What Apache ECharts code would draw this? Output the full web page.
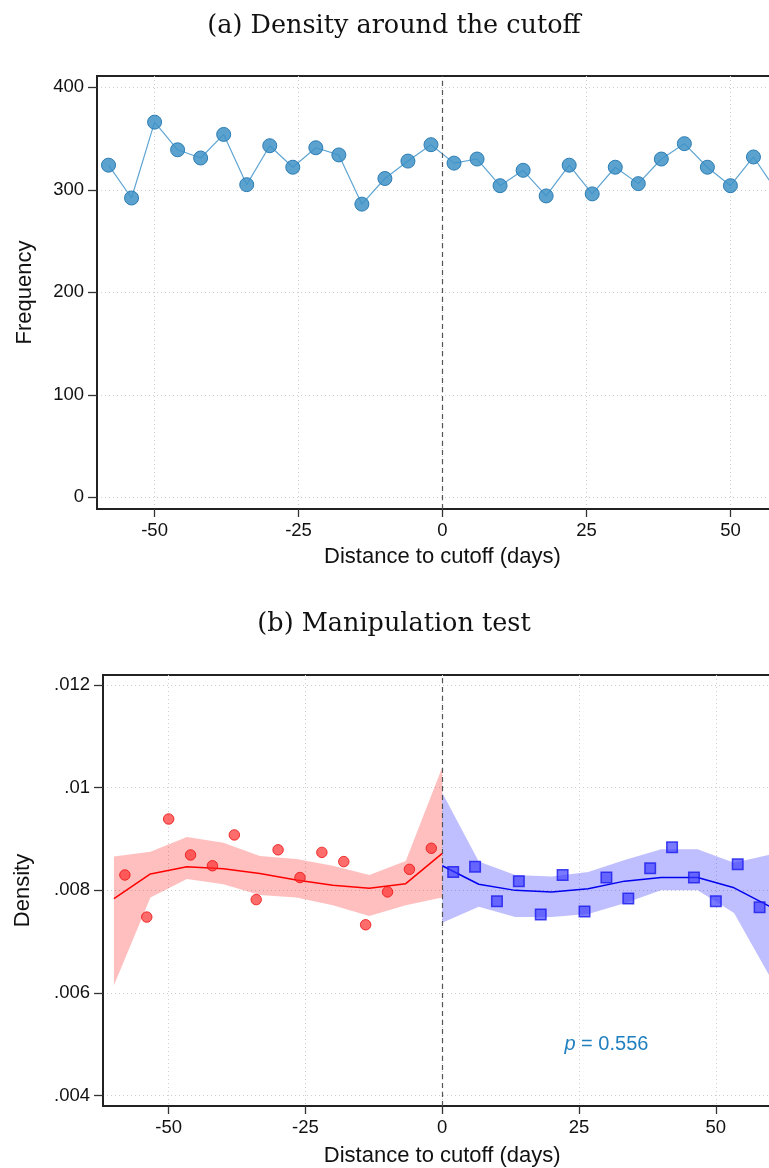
<!DOCTYPE html>
<html>
<head>
<meta charset="utf-8">
<title>Density around the cutoff</title>
<script src="https://cdn.jsdelivr.net/npm/echarts@6/dist/echarts.min.js"></script>
<style>
  html, body { margin: 0; padding: 0; background: #fff; overflow: hidden; }
  /* the figure is wider than the window; its right edge is cut off */
  #main { width: 788px; height: 1168px; }
</style>
</head>
<body>
<div id="main"></div>
<script>
// bins (days from cutoff)
const binX = [-58, -54, -50, -46, -42, -38, -34, -30, -26, -22, -18, -14, -10, -6, -2,
              2, 6, 10, 14, 18, 22, 26, 30, 34, 38, 42, 46, 50, 54, 58];
const freq = [324, 292, 366, 339, 331, 354, 305, 343, 322, 341, 334, 286, 311, 328, 344,
              326, 330, 304, 319, 294, 324, 296, 322, 306, 330, 345, 322, 304, 332, 299];

const leftBinX = [-58, -54, -50, -46, -42, -38, -34, -30, -26, -22, -18, -14, -10, -6, -2];
const leftDens = [0.00830, 0.00748, 0.00939, 0.00869, 0.00848, 0.00908, 0.00782, 0.00879,
                  0.00825, 0.00874, 0.00856, 0.00733, 0.00797, 0.00841, 0.00882];
const rightBinX = [2, 6, 10, 14, 18, 22, 26, 30, 34, 38, 42, 46, 50, 54, 58];
const rightDens = [0.00836, 0.00846, 0.00779, 0.00818, 0.00753, 0.00830, 0.00759, 0.00825,
                   0.00784, 0.00843, 0.00884, 0.00825, 0.00779, 0.00851, 0.00767];

// local polynomial fit + confidence band
const leftGrid = [-60, -53.33, -46.67, -40, -33.33, -26.67, -20, -13.33, -6.67, 0];
const leftFit = [0.00784, 0.00832, 0.00846, 0.00842, 0.00833, 0.00820, 0.00810, 0.00804, 0.00813, 0.00872];
const leftHi  = [0.00866, 0.00875, 0.00904, 0.00893, 0.00867, 0.00861, 0.00848, 0.00830, 0.00857, 0.01040];
const leftLo  = [0.00615, 0.00786, 0.00822, 0.00812, 0.00791, 0.00786, 0.00771, 0.00750, 0.00771, 0.00786];

const rightGrid = [0, 6.67, 13.33, 20, 26.67, 33.33, 40, 46.67, 53.33, 60];
const rightFit = [0.00848, 0.00812, 0.00800, 0.00797, 0.00803, 0.00818, 0.00825, 0.00825, 0.00805, 0.00768];
const rightHi  = [0.00990, 0.00856, 0.00830, 0.00827, 0.00836, 0.00859, 0.00880, 0.00880, 0.00854, 0.00870];
const rightLo  = [0.00737, 0.00768, 0.00748, 0.00748, 0.00754, 0.00775, 0.00800, 0.00800, 0.00756, 0.00630];

const xTicks = [-50, -25, 0, 25, 50];
const freqTicks = [0, 100, 200, 300, 400];
const densTicks = [0.004, 0.006, 0.008, 0.010, 0.012];
const pText = '0.556';

const SANS = '"Liberation Sans", Arial, sans-serif';
const SERIF = '"DejaVu Serif", "Liberation Serif", serif';

const zip = (xs, ys) => xs.map((x, i) => [x, ys[i]]);
const fmtDens = v => String(Number(v.toFixed(3))).replace(/^0/, '');
const gridLine = { show: true, lineStyle: { color: '#cdcdcd', type: [1, 3], width: 1 } };

function xAxisOpt(gridIndex, min, max, gap) {
    return {
        type: 'value', gridIndex: gridIndex, min: min, max: max,
        name: 'Distance to cutoff (days)', nameLocation: 'middle', nameGap: gap,
        nameTextStyle: { fontFamily: SANS, fontSize: 22, color: '#111' },
        axisLine: { show: true, onZero: false, lineStyle: { color: '#222', width: 2 } },
        axisTick: { show: true, length: 8, customValues: xTicks, lineStyle: { color: '#333', width: 1.3 } },
        axisLabel: { customValues: xTicks, fontFamily: SANS, fontSize: 18.5, color: '#111', margin: 12 },
        splitLine: gridLine
    };
}

function yAxisOpt(gridIndex, min, max, ticks, name, fmt, gap) {
    return {
        type: 'value', gridIndex: gridIndex, min: min, max: max,
        name: name, nameLocation: 'middle', nameGap: gap,
        nameTextStyle: { fontFamily: SANS, fontSize: 22, color: '#111' },
        axisLine: { show: true, onZero: false, lineStyle: { color: '#222', width: 2 } },
        axisTick: { show: true, length: 9, customValues: ticks, lineStyle: { color: '#333', width: 1.3 } },
        axisLabel: { customValues: ticks, formatter: fmt, fontFamily: SANS, fontSize: 18.5, color: '#111', margin: 13 },
        splitLine: gridLine
    };
}

const cutoffLine = {
    silent: true, symbol: 'none', label: { show: false },
    lineStyle: { color: '#555', type: [5, 4], width: 1.2 },
    data: [{ xAxis: 0 }]
};

// confidence band as a polygon through the axis scales
function band(name, xs, lo, hi, color) {
    return {
        name: name, type: 'custom', xAxisIndex: 1, yAxisIndex: 1, z: 1, silent: true,
        data: [[xs[0], lo[0]]],
        encode: { x: 0, y: 1 },
        renderItem: function (params, api) {
            const top = xs.map((x, i) => api.coord([x, hi[i]]));
            const bot = xs.map((x, i) => api.coord([x, lo[i]])).reverse();
            return { type: 'polygon', shape: { points: top.concat(bot) }, style: { fill: color } };
        }
    };
}

const chart = echarts.init(document.getElementById('main'));
chart.setOption({
    animation: false,
    backgroundColor: '#fff',
    title: [
        { text: '(a) Density around the cutoff', left: 'center', top: 8,
          textStyle: { fontFamily: SERIF, fontWeight: 'normal', fontSize: 25.5, color: '#111' } },
        { text: '(b) Manipulation test', left: 'center', top: 606,
          textStyle: { fontFamily: SERIF, fontWeight: 'normal', fontSize: 25.5, color: '#111' } }
    ],
    grid: [
        { left: 97, top: 76, right: 0, height: 433, show: true, borderColor: '#222', borderWidth: 2 },
        { left: 103, top: 675, right: 6.5, height: 431, show: true, borderColor: '#222', borderWidth: 2 }
    ],
    xAxis: [
        xAxisOpt(0, -60, 60, 37),
        xAxisOpt(1, -62, 62, 39)
    ],
    yAxis: [
        yAxisOpt(0, -11.4, 411, freqTicks, 'Frequency', v => String(v), 61),
        yAxisOpt(1, 0.0038, 0.012195, densTicks, 'Density', fmtDens, 69)
    ],
    series: [
        {
            name: 'Frequency', type: 'line', xAxisIndex: 0, yAxisIndex: 0,
            data: zip(binX, freq),
            symbol: 'circle', symbolSize: 14,
            lineStyle: { color: '#5fa5d3', width: 1.2 },
            itemStyle: { color: 'rgba(62,146,199,0.85)', borderColor: '#2b7db5', borderWidth: 1 },
            markLine: cutoffLine, z: 3
        },
        band('left band', leftGrid, leftLo, leftHi, 'rgba(255,0,0,0.25)'),
        band('right band', rightGrid, rightLo, rightHi, 'rgba(0,0,255,0.25)'),
        {
            name: 'left fit', type: 'line', xAxisIndex: 1, yAxisIndex: 1,
            data: zip(leftGrid, leftFit), symbol: 'none',
            lineStyle: { color: '#ff0000', width: 1.5 }, z: 3,
            markLine: cutoffLine
        },
        {
            name: 'right fit', type: 'line', xAxisIndex: 1, yAxisIndex: 1,
            data: zip(rightGrid, rightFit), symbol: 'none',
            lineStyle: { color: '#0000ee', width: 1.5 }, z: 3,
            markPoint: {
                symbol: 'circle', symbolSize: 0, silent: true,
                data: [{ coord: [30, 0.005] }],
                label: {
                    show: true, position: 'inside',
                    formatter: '{i|p} = ' + pText,
                    fontFamily: SANS, fontSize: 20, color: '#1f7fbf',
                    rich: { i: { fontStyle: 'italic', fontFamily: SANS, fontSize: 20, color: '#1f7fbf' } }
                }
            }
        },
        {
            name: 'left bins', type: 'scatter', xAxisIndex: 1, yAxisIndex: 1,
            data: zip(leftBinX, leftDens), symbol: 'circle', symbolSize: 10.5,
            itemStyle: { color: 'rgba(255,40,40,0.85)', borderColor: '#e81010', borderWidth: 1 }, z: 4
        },
        {
            name: 'right bins', type: 'scatter', xAxisIndex: 1, yAxisIndex: 1,
            data: zip(rightBinX, rightDens), symbol: 'rect', symbolSize: 10.5,
            itemStyle: { color: 'rgba(60,60,255,0.85)', borderColor: '#1a1aee', borderWidth: 1.5 }, z: 4
        }
    ]
});
</script>
</body>
</html>
